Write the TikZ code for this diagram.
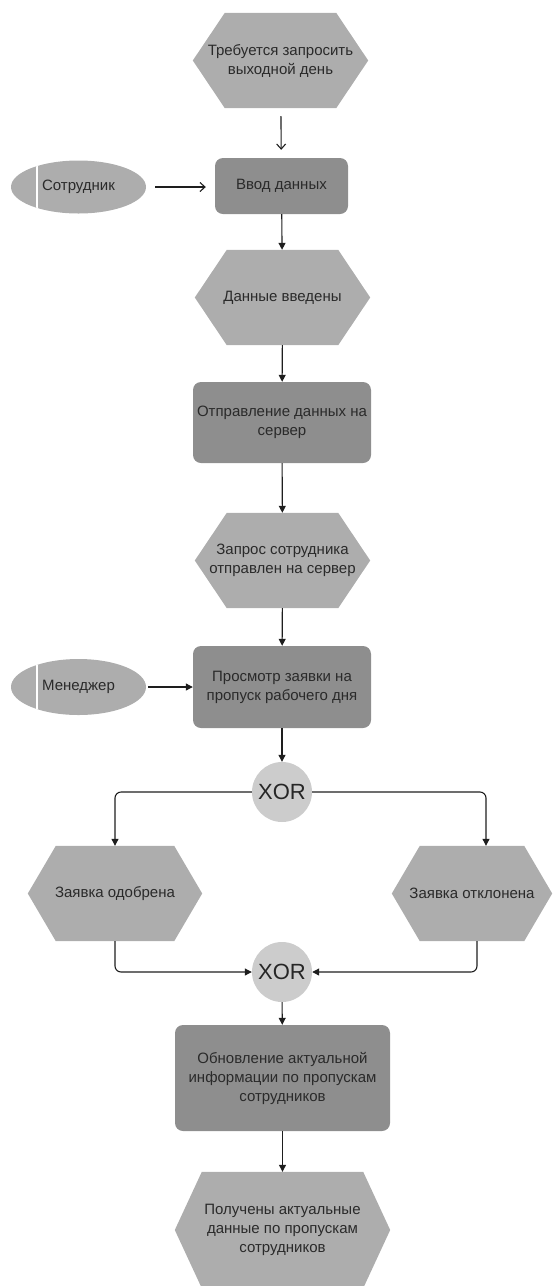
\documentclass[tikz,border=0pt]{standalone}
\usepackage{fontspec}
\setmainfont{Liberation Sans}
\usetikzlibrary{arrows.meta,backgrounds,shapes.geometric}
\definecolor{txtc}{HTML}{2A2A2A}
\definecolor{boxc}{HTML}{8E8E8E}
\definecolor{hexc}{HTML}{ADADAD}
\definecolor{rolec}{HTML}{ADADAD}
\definecolor{gatec}{HTML}{CCCCCC}
\definecolor{linec}{HTML}{1E1E1E}
\newcommand{\hexfill}[2]{\fill[hexc] (#1.west) -- ([xshift=#2]#1.north west) -- ([xshift=-#2]#1.north east) -- (#1.east) -- ([xshift=-#2]#1.south east) -- ([xshift=#2]#1.south west) -- cycle;}
\begin{document}
\begin{tikzpicture}[x=1pt,y=-1pt,
  txt/.style={font=\fontsize{15}{19}\selectfont, text=txtc, align=center},
  hexnode/.style={txt, rectangle, inner sep=0pt},
  funcbox/.style={txt, rectangle, rounded corners=8pt, fill=boxc, inner sep=0pt},
  role/.style={txt, ellipse, fill=rolec, inner sep=0pt,
    path picture={\draw[white,line width=1.3pt] ([xshift=26pt]path picture bounding box.north west) -- ([xshift=26pt]path picture bounding box.south west);}},
  gate/.style={circle, fill=gatec, minimum size=60pt, inner sep=0pt, font=\fontsize{22}{26}\selectfont, text=black!85},
  flow/.style={draw=linec, line width=1.1pt, -{Triangle[length=7pt,width=7pt]}},
  openflow/.style={draw=linec, line width=1.1pt, -{Straight Barb[length=5pt,width=9pt]}},
]
\useasboundingbox (0,0) rectangle (552,1286);

\node[hexnode, minimum width=175pt, minimum height=95pt] (h1) at (280.5,60.5) {Требуется запросить\\выходной день};
\node[funcbox, minimum width=133pt, minimum height=56pt] (r1) at (281.5,186) {Ввод данных};
\node[role, minimum width=135pt, minimum height=53pt] (e1) at (78.5,187) {Сотрудник};
\node[hexnode, minimum width=175pt, minimum height=95pt] (h2) at (282.5,297.5) {Данные введены};
\node[funcbox, minimum width=178pt, minimum height=81pt] (r2) at (282,422.5) {Отправление данных на\\сервер};
\node[hexnode, minimum width=175pt, minimum height=95pt] (h3) at (282.5,560.5) {Запрос сотрудника\\отправлен на сервер};
\node[funcbox, minimum width=178pt, minimum height=82pt] (r3) at (282,687) {Просмотр заявки на\\пропуск рабочего дня};
\node[role, minimum width=135pt, minimum height=56pt] (e2) at (78.5,687) {Менеджер};
\node[gate] (x1) at (282,792) {XOR};
\node[hexnode, minimum width=174pt, minimum height=95pt] (hl) at (115,893.5) {Заявка одобрена};
\node[hexnode, minimum width=160pt, minimum height=95pt] (hr) at (472,893.5) {Заявка отклонена};
\node[gate] (x2) at (282,972) {XOR};
\node[funcbox, minimum width=215pt, minimum height=106pt] (r4) at (282.5,1078) {Обновление актуальной\\информации по пропускам\\сотрудников};
\node[hexnode, minimum width=215pt, minimum height=116pt] (h5) at (282.5,1230) {Получены актуальные\\данные по пропускам\\сотрудников};

\begin{scope}[on background layer]
\hexfill{h1}{32pt}
\hexfill{h2}{32pt}
\hexfill{h3}{32pt}
\hexfill{hl}{28pt}
\hexfill{hr}{28pt}
\hexfill{h5}{27pt}
\end{scope}

\draw[openflow, shorten <=8pt, shorten >=8pt] (h1) -- (r1);
\draw[openflow, shorten <=9pt, shorten >=9pt] (e1.east) -- (e1.east -| r1.west);
\draw[flow] (r1) -- (h2);
\draw[flow] (h2) -- (r2);
\draw[flow] (r2) -- (h3);
\draw[flow] (h3) -- (r3);
\draw[flow, shorten <=2pt] (e2.east) -- (e2.east -| r3.west);
\draw[flow] (r3) -- (x1);
\draw[flow, rounded corners=6pt] (x1.west) -| (hl.north);
\draw[flow, rounded corners=6pt] (x1.east) -| ([xshift=14pt]hr.north);
\draw[flow, rounded corners=6pt] (hl.south) |- (x2.west);
\draw[flow, rounded corners=6pt] ([xshift=5pt]hr.south) |- (x2.east);
\draw[flow] (x2) -- (r4);
\draw[flow] (r4) -- (h5);
\end{tikzpicture}
\end{document}
